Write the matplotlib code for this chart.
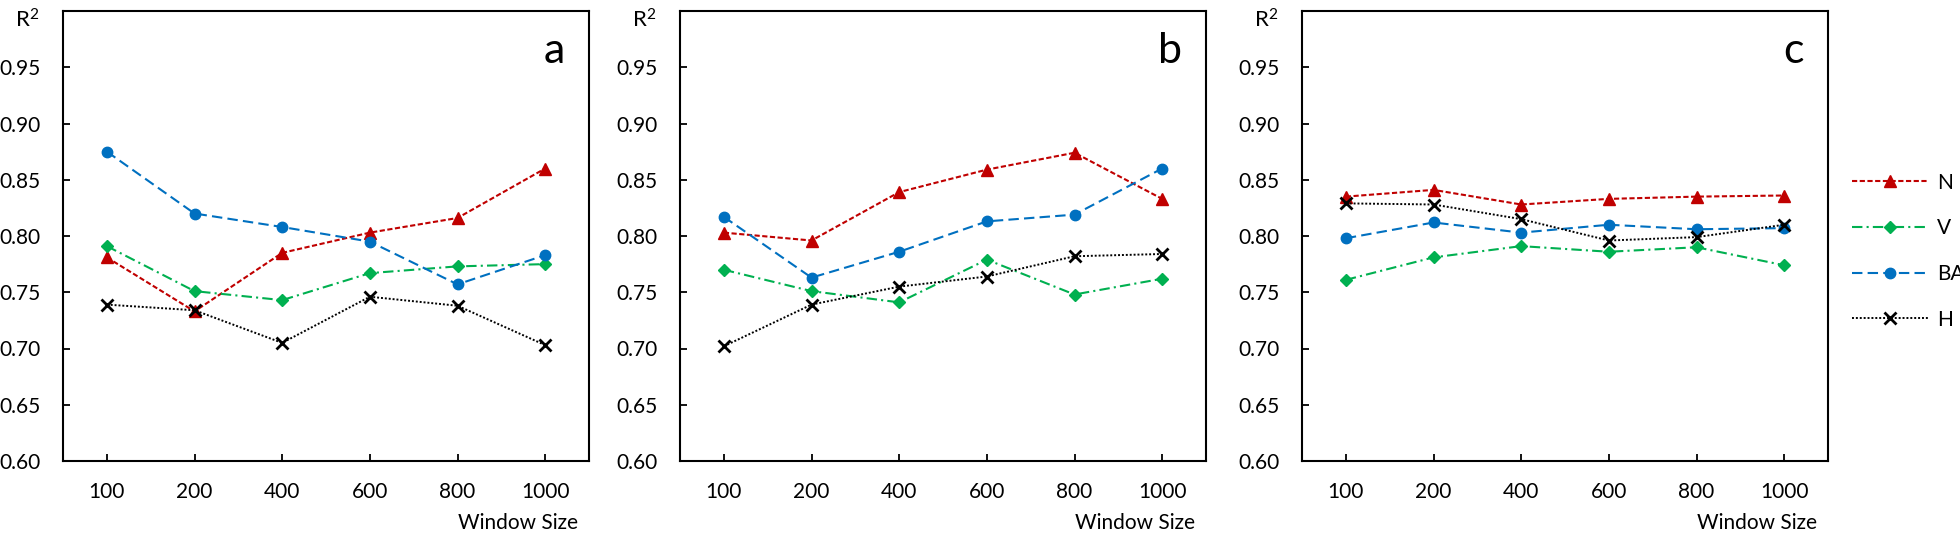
import matplotlib
matplotlib.use("Agg")
import matplotlib.pyplot as plt

plt.rcParams['font.family'] = ['Lato', 'DejaVu Sans']
plt.rcParams['mathtext.default'] = 'regular'

window = ['100', '200', '400', '600', '800', '1000']
series_names = ['N', 'V', 'BA', 'H']

# R2 values per panel
a_N = [0.781, 0.733, 0.785, 0.803, 0.816, 0.860]
a_V = [0.791, 0.751, 0.743, 0.767, 0.773, 0.775]
a_BA = [0.875, 0.820, 0.808, 0.795, 0.757, 0.783]
a_H = [0.739, 0.734, 0.705, 0.746, 0.738, 0.703]

b_N = [0.803, 0.796, 0.839, 0.859, 0.874, 0.833]
b_V = [0.770, 0.751, 0.741, 0.779, 0.748, 0.762]
b_BA = [0.817, 0.763, 0.786, 0.813, 0.819, 0.860]
b_H = [0.702, 0.739, 0.755, 0.764, 0.782, 0.784]

c_N = [0.835, 0.841, 0.828, 0.833, 0.835, 0.836]
c_V = [0.761, 0.781, 0.791, 0.786, 0.790, 0.774]
c_BA = [0.798, 0.812, 0.803, 0.810, 0.806, 0.807]
c_H = [0.829, 0.828, 0.815, 0.796, 0.799, 0.810]

panels = [('a', [a_N, a_V, a_BA, a_H]),
          ('b', [b_N, b_V, b_BA, b_H]),
          ('c', [c_N, c_V, c_BA, c_H])]

styles = {
    'N': dict(color='#C00000', ls=(0, (2.5, 1.2)), marker='^', ms=9, lw=1.5),
    'V': dict(color='#00B050', ls=(0, (5, 2, 1, 2)), marker='D', ms=6.5, lw=1.5),
    'BA': dict(color='#0070C0', ls=(0, (5, 2.5)), marker='o', ms=7.5, lw=1.5),
    'H': dict(color='black', ls=(0, (1, 1)), marker='x', ms=8, lw=1.4, mew=2),
}

fig = plt.figure(figsize=(19.6, 5.33), dpi=100)
lefts = [63, 680, 1302]
x = list(range(len(window)))

for left, (tag, data) in zip(lefts, panels):
    ax = fig.add_axes([left / 1960, 72 / 533, 526 / 1960, 450 / 533])
    for name, vals in zip(series_names, data):
        ax.plot(x, vals, label=name, **styles[name])
    ax.set_xlim(-0.5, 5.5)
    ax.set_ylim(0.6, 1.0)
    ax.set_xticks(x)
    ax.set_xticklabels(window)
    ax.set_yticks([0.60, 0.65, 0.70, 0.75, 0.80, 0.85, 0.90, 0.95])
    ax.set_yticklabels(['0.60', '0.65', '0.70', '0.75', '0.80', '0.85', '0.90', '0.95'])
    ax.tick_params(direction='in', length=5, width=1.3, labelsize=15)
    ax.tick_params(axis='y', pad=16)
    ax.tick_params(axis='x', pad=15)
    for s in ax.spines.values():
        s.set_linewidth(1.5)
    ax.text(0.954, 0.911, tag, transform=ax.transAxes, ha='right', va='center', fontsize=31)
    ax.text(-0.045, 1.005, 'R$^2$', transform=ax.transAxes, ha='right', va='top', fontsize=16)
    ax.text(0.98, -0.152, 'Window Size', transform=ax.transAxes, ha='right', va='baseline', fontsize=15)
    last = ax

handles, labels = last.get_legend_handles_labels()
fig.legend(handles, labels, loc='upper left', bbox_to_anchor=(1833 / 1960, 1 - 154 / 533),
           frameon=False, fontsize=15, handlelength=3.65, labelspacing=1.23, handletextpad=0.45)

fig.savefig('out.png', dpi=100)
